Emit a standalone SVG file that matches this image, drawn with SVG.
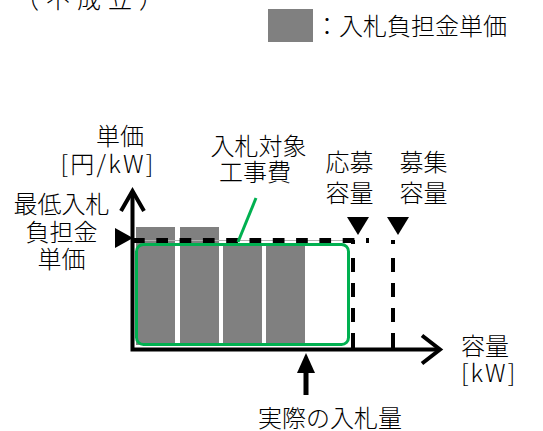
<svg xmlns="http://www.w3.org/2000/svg" width="543" height="431" viewBox="0 0 543 431">
<style>
  text { font-family: "Noto Sans CJK JP", "Noto Sans", sans-serif; fill: #000; font-size: 24px; font-weight: 300; }
  .c { text-anchor: middle; }
  .bar { fill: #808080; }
  .ax { fill: none; stroke: #000; stroke-width: 4; stroke-linejoin: miter; }
  .vd { stroke: #000; stroke-width: 4; stroke-dasharray: 4 14 14 11 14 11 14 11 15; }
  .tri { fill: #000; }
</style>
<rect width="543" height="431" fill="#fff"/>

<g id="title">
  <text x="15" y="8" font-size="38" letter-spacing="7">（不成立）</text>
</g>

<g id="legend">
  <rect class="bar" x="268" y="9" width="45" height="33"/>
  <text x="315" y="35" font-size="25">：入札負担金単価</text>
</g>

<g id="bars">
  <rect class="bar" x="136" y="227" width="39" height="118"/>
  <rect class="bar" x="180" y="227" width="39" height="118"/>
  <rect class="bar" x="223" y="244" width="39" height="101"/>
  <rect class="bar" x="266" y="244" width="39" height="101"/>
</g>

<g id="target-cost-box">
  <rect x="136.5" y="244.5" width="212" height="100" rx="7" fill="none" stroke="#00B050" stroke-width="3"/>
</g>

<g id="connectors">
  <line x1="133" y1="240.5" x2="352" y2="240.5" stroke="#b0b0b0" stroke-width="1"/>
  <line x1="133" y1="240.5" x2="369" y2="240.5" stroke="#000" stroke-width="5" stroke-dasharray="11.7 11.6"/>
  <line class="vd" x1="353" y1="240" x2="353" y2="348"/>
  <line class="vd" x1="393" y1="240" x2="393" y2="348"/>
  <path class="ax" d="M132.5,191 V349.5 H440"/>
  <polyline class="ax" points="121,211 132.5,191 144,211"/>
  <polyline class="ax" points="422,335.5 440,349.5 422,363.5"/>
  <polygon class="tri" points="115,228 115,248 133,238"/>
  <polygon class="tri" points="347,217 369,217 358,235"/>
  <polygon class="tri" points="387,217 409,217 398,235"/>
  <line x1="238" y1="242" x2="256" y2="198" stroke="#00B050" stroke-width="3"/>
  <polygon class="tri" points="306,353 297,373 315,373"/>
  <rect x="303.5" y="371" width="5" height="24" fill="#000"/>
</g>

<g id="label-yaxis">
  <text class="c" x="120" y="145">単価</text>
  <text class="c" x="108" y="173" letter-spacing="2.2">[円/kW]</text>
</g>

<g id="label-min-price">
  <text class="c" x="61.5" y="213" font-size="25">最低入札</text>
  <text class="c" x="61.5" y="241" font-size="25">負担金</text>
  <text class="c" x="61.5" y="268" font-size="25">単価</text>
</g>

<g id="label-target-cost">
  <text class="c" x="258.5" y="155" font-size="25">入札対象</text>
  <text class="c" x="255" y="181" font-size="25">工事費</text>
</g>

<g id="label-applied">
  <text class="c" x="349.5" y="171">応募</text>
  <text class="c" x="349.5" y="202">容量</text>
</g>

<g id="label-recruit">
  <text class="c" x="423.5" y="171">募集</text>
  <text class="c" x="423.5" y="202">容量</text>
</g>

<g id="label-xaxis">
  <text x="461" y="355">容量</text>
  <text x="461" y="382" letter-spacing="2">[kW]</text>
</g>

<g id="label-actual">
  <text class="c" x="330" y="427" font-size="26">実際の入札量</text>
</g>
</svg>
